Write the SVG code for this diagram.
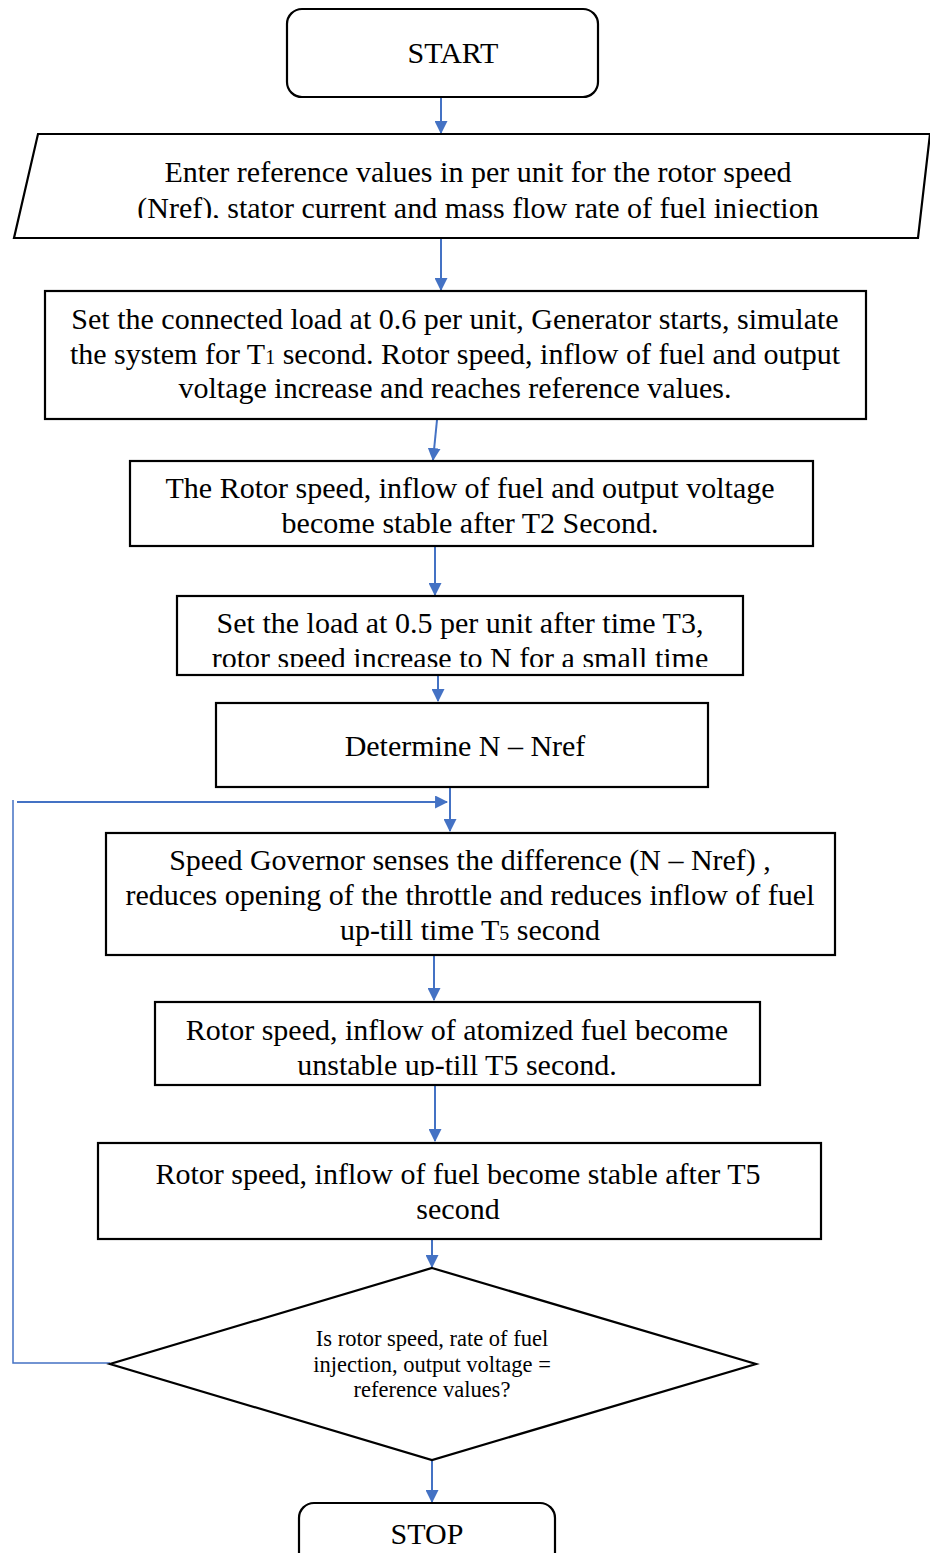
<svg xmlns="http://www.w3.org/2000/svg" width="930" height="1553" viewBox="0 0 930 1553">
  <style>
    .box { fill: #ffffff; stroke: #000000; stroke-width: 2.2; }
    .t { font-family: "Liberation Serif", "Times New Roman", serif; font-size: 30px; fill: #000000; text-anchor: middle; }
    .ts { font-family: "Liberation Serif", "Times New Roman", serif; font-size: 22.5px; fill: #000000; text-anchor: middle; }
    .sub { font-size: 20px; }
    .link { fill: none; stroke: #4472C4; stroke-width: 2; }
    .loop { fill: none; stroke: #4472C4; stroke-width: 1.5; }
  </style>
  <defs>
    <marker id="arrow" viewBox="0 0 12 12" refX="11" refY="6" markerWidth="13" markerHeight="13" markerUnits="userSpaceOnUse" orient="auto">
      <path d="M0,0 L12,6 L0,12 Z" fill="#4472C4"/>
    </marker>
    <clipPath id="clipInput"><rect x="0" y="134" width="930" height="84"/></clipPath>
    <clipPath id="clipLoad"><rect x="177" y="596" width="566" height="71"/></clipPath>
    <clipPath id="clipUnstable"><rect x="155" y="1002" width="605" height="74"/></clipPath>
  </defs>

  <rect width="930" height="1553" fill="#ffffff"/>

  <!-- connectors -->
  <g id="connectors">
    <line class="link" x1="441" y1="97" x2="441" y2="133" marker-end="url(#arrow)"/>
    <line class="link" x1="441" y1="239" x2="441" y2="290" marker-end="url(#arrow)"/>
    <line class="link" x1="437" y1="420" x2="433" y2="460" marker-end="url(#arrow)"/>
    <line class="link" x1="435" y1="547" x2="435" y2="595" marker-end="url(#arrow)"/>
    <line class="link" x1="438" y1="676" x2="438" y2="701" marker-end="url(#arrow)"/>
    <line class="link" x1="450" y1="788" x2="450" y2="831" marker-end="url(#arrow)"/>
    <line class="link" x1="434" y1="956" x2="434" y2="1000" marker-end="url(#arrow)"/>
    <line class="link" x1="435" y1="1086" x2="435" y2="1141" marker-end="url(#arrow)"/>
    <line class="link" x1="432" y1="1240" x2="432" y2="1267" marker-end="url(#arrow)"/>
    <line class="link" x1="432" y1="1461" x2="432" y2="1502" marker-end="url(#arrow)"/>
    <!-- feedback loop from the decision back to the governor step -->
    <polyline class="loop" points="110,1363 13,1363 13,800"/>
    <line class="link" x1="17" y1="802" x2="447" y2="802" marker-end="url(#arrow)"/>
  </g>

  <g id="start">
    <rect class="box" x="287" y="9" width="311" height="88" rx="15"/>
    <text class="t" x="453" y="63">START</text>
  </g>

  <g id="input">
    <polygon class="box" points="38,134 930,134 918,238 14,238"/>
    <g clip-path="url(#clipInput)">
      <text class="t" x="478" y="182">Enter reference values in per unit for the rotor speed</text>
      <text class="t" x="478" y="218">(Nref), stator current and mass flow rate of fuel injection</text>
    </g>
  </g>

  <g id="set-load">
    <rect class="box" x="45" y="291" width="821" height="128"/>
    <text class="t" x="455" y="329">Set the connected load at 0.6 per unit, Generator starts, simulate</text>
    <text class="t" x="455" y="364">the system for T<tspan class="sub">1</tspan> second. Rotor speed, inflow of fuel and output</text>
    <text class="t" x="455" y="398">voltage increase and reaches reference values.</text>
  </g>

  <g id="stable-t2">
    <rect class="box" x="130" y="461" width="683" height="85"/>
    <text class="t" x="470" y="498">The Rotor speed, inflow of fuel and output voltage</text>
    <text class="t" x="470" y="533">become stable after T2 Second.</text>
  </g>

  <g id="load-change">
    <rect class="box" x="177" y="596" width="566" height="79"/>
    <g clip-path="url(#clipLoad)">
      <text class="t" x="460" y="633">Set the load at 0.5 per unit after time T3,</text>
      <text class="t" x="460" y="668">rotor speed increase to N for a small time</text>
    </g>
  </g>

  <g id="determine">
    <rect class="box" x="216" y="703" width="492" height="84"/>
    <text class="t" x="465" y="756">Determine N – Nref</text>
  </g>

  <g id="governor">
    <rect class="box" x="106" y="833" width="729" height="122"/>
    <text class="t" x="470" y="870">Speed Governor senses the difference (N – Nref) ,</text>
    <text class="t" x="470" y="905">reduces opening of the throttle and reduces inflow of fuel</text>
    <text class="t" x="470" y="940">up-till time T<tspan class="sub">5</tspan> second</text>
  </g>

  <g id="unstable">
    <rect class="box" x="155" y="1002" width="605" height="83"/>
    <g clip-path="url(#clipUnstable)">
      <text class="t" x="457" y="1040">Rotor speed, inflow of atomized fuel become</text>
      <text class="t" x="457" y="1075">unstable up-till T5 second.</text>
    </g>
  </g>

  <g id="stable-t5">
    <rect class="box" x="98" y="1143" width="723" height="96"/>
    <text class="t" x="458" y="1184">Rotor speed, inflow of fuel become stable after T5</text>
    <text class="t" x="458" y="1219">second</text>
  </g>

  <g id="decision">
    <polygon class="box" points="432,1268 756,1364 432,1460 110,1364"/>
    <text class="ts" x="432" y="1346">Is rotor speed, rate of fuel</text>
    <text class="ts" x="432" y="1372">injection, output voltage =</text>
    <text class="ts" x="432" y="1397">reference values?</text>
  </g>

  <g id="stop">
    <rect class="box" x="299" y="1503" width="256" height="80" rx="15"/>
    <text class="t" x="427" y="1544">STOP</text>
  </g>
</svg>
